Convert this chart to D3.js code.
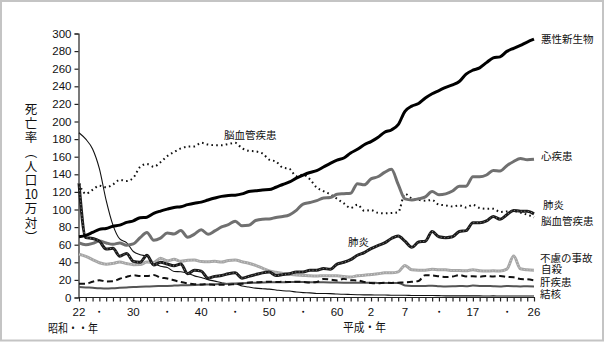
<!DOCTYPE html>
<html><head><meta charset="utf-8">
<script src="https://cdn.jsdelivr.net/npm/d3@7"></script>
<style>
html,body{margin:0;padding:0;background:#fff;}
svg{display:block;}
.tick text{font-family:"Liberation Sans",Arial,sans-serif;}
</style></head>
<body><svg id="c" width="607" height="344"></svg>
<script>
const years = d3.range(1947, 2015);
const malignant = [69.0,70.6,73.9,77.4,78.5,80.9,82.2,85.3,87.1,90.7,
91.3,95.5,98.2,100.4,102.3,103.2,105.5,107.2,108.4,110.8,
113.0,114.9,115.9,116.3,117.7,120.4,121.2,122.2,122.6,125.3,
128.4,131.3,135.7,139.1,142.0,144.2,148.3,152.5,156.1,158.5,
164.2,168.4,173.6,177.2,181.7,187.8,190.4,196.4,211.6,217.5,
220.4,226.7,231.6,235.2,238.8,241.7,245.4,253.9,258.3,261.0,
266.9,272.3,273.5,279.7,283.2,286.6,290.3,293.5];
const heart = [62.2,60,61.5,64.2,62,60.5,62,59.5,60.9,68,
74,65,67.5,73.2,72.1,76.2,68.5,72,77.0,71.9,
75.7,80.2,82.8,86.7,81.5,82,87.5,89,89.2,91,
92,94,99,106.2,107.9,110,113.1,113.6,117.3,117.9,
118.4,129.4,128,134.8,137.2,142.2,145.6,128.6,112.0,110.8,
112.2,114.3,120.4,116.8,117.8,121.0,126.5,126.5,137.2,137.2,
139.2,144.4,143.7,149.8,154.5,157.9,156.5,157.0];
const cerebro = [129.4,117.9,122.4,127.1,125.2,128.5,133.7,132.4,136.1,148.4,
151.7,148.6,153.7,160.7,165.4,169.4,171.4,171.7,175.8,173.8,
173.1,173.1,174.4,175.8,169.6,166.7,166.0,163.8,156.7,154.5,
147.6,146.2,137.7,139.5,134.3,125.0,120.9,117.2,112.2,106.9,
101.7,105.5,98.5,99.4,96.2,95.6,96.0,96.9,117.9,112.6,
111.0,110.0,110.8,105.5,104.7,103.4,104.7,102.3,105.3,101.7,
100.8,100.9,97.2,97.7,98.2,96.5,94.1,91.1];
const pneumonia = [130,68,67,64,55,56,47,50,41,40,
48,37,40,38,36,38,27,31,30,22,
24,25,27,28,22,24,26,28,29,25,
26,27,29,29,31,31,33,32,38,40,
43,48,51,55.6,59,62,67,70,64,57,
63,64,75,69,68,69,75,76,85,85,
87,92,89,94,99,98,98,95];
const accident = [49.2,46.8,43.1,39.5,37.9,38.8,40.4,38.6,37.3,37.4,
40.2,39.7,44.7,41.7,43.4,41.2,42.3,42.5,40.9,40.5,
41.1,40.3,42.0,42.5,40.7,38.9,36.5,33.4,30.3,28.6,
27.4,26.4,25.5,25.1,24.6,24.4,24.8,24.7,24.6,23.9,
23.2,24.8,25.3,26.2,26.9,28.1,28.0,29.1,36.5,31.4,
31.1,31.1,32.0,31.4,31.4,30.7,30.7,30.3,31.6,30.3,
30.1,30.3,30.0,32.2,47.1,32.6,31.5,31.1];
const suicide = [15.7,15.7,17.9,19.6,18.2,18.4,21.3,23.4,25.2,24.5,
24.3,25.7,22.7,21.6,19.6,17.5,16.1,15.1,14.7,15.2,
14.2,14.5,14.5,15.3,15.6,17.0,17.4,17.5,18.0,17.6,
17.9,17.6,18.0,17.7,17.1,17.5,21.0,20.4,19.4,21.2,
19.6,19.4,17.7,16.4,16.1,16.9,16.6,16.9,17.2,17.8,
18.8,25.4,25.0,24.1,23.3,23.8,25.5,24.0,24.2,23.7,
24.4,24.0,24.4,23.4,22.9,21.0,20.7,19.5];
const liver = [12.0,11.5,11.0,10.5,10.2,10.5,11.0,11.5,12.0,12.3,
12.5,12.8,13.0,13.2,13.5,13.8,14.0,14.2,14.5,14.8,
15.0,15.3,15.6,16.0,16.3,16.6,16.8,17.0,17.2,17.3,
17.4,17.5,17.5,17.5,17.4,17.3,17.2,17.1,17.0,16.9,
16.8,16.8,16.7,16.7,16.6,16.6,16.5,16.5,13.7,13.2,
13.1,13.1,13.4,12.9,12.6,12.7,13.1,12.8,13.5,13.2,
13.1,12.8,12.6,13.0,12.9,12.6,12.7,12.6];
const tb = [187.2,179.9,168.8,146.4,110.3,82.2,66.5,62.4,52.3,48.6,
46.9,39.4,35.5,34.2,29.6,29.3,27.5,24.6,22.8,20.3,
18.6,16.8,15.4,15.4,13.0,11.9,10.7,10.0,9.5,8.6,
7.6,7.3,6.2,5.5,5.2,4.6,4.5,4.4,3.9,3.7,
3.4,3.2,3.0,3.0,2.8,2.8,2.6,2.6,2.6,2.3,
2.2,2.2,2.3,2.1,1.8,1.8,1.9,1.8,1.8,1.8,
1.7,1.8,1.7,1.7,1.7,1.7,1.7,1.7];

const seriesNames = ["悪性新生物","心疾患","肺炎","脳血管疾患","不慮の事故","自殺","肝疾患","結核"];
const xTickYears = [1947,1950,1955,1960,1965,1970,1975,1980,1985,1990,1995,2000,2005,2010,2014];
const xTickLabels = ["22","・","30","・","40","・","50","・","60","2","7","・","17","・","26"];
const yTicks = d3.range(0, 301, 20);
const yTitle = ["死","亡","率","︵","人","口","10","万","対","︶"];

const svg = d3.select("#c");
const x = d3.scaleLinear().domain([1947, 2014]).range([79, 534]);
const y = d3.scaleLinear().domain([0, 300]).range([297.5, 33.5]);
const jp = '"Noto Sans CJK JP","Noto Sans CJK SC",sans-serif';

// frame
svg.append("rect").attr("x",1).attr("y",1).attr("width",602).attr("height",339.5)
  .attr("fill","#fff").attr("stroke","#c4c4c4").attr("stroke-width",2);

// y axis
const ya = svg.append("g").attr("transform","translate(78.5,0)")
  .call(d3.axisLeft(y).tickValues(yTicks).tickSize(4).tickPadding(3).tickFormat(d3.format("d")));
ya.selectAll("text").attr("font-size",11.5).attr("fill","#111");
ya.selectAll("line,path").attr("stroke","#222").attr("stroke-width",1.2);

// x axis
const xa = svg.append("g").attr("transform","translate(0,297.5)")
  .call(d3.axisBottom(x).tickValues(years).tickSize(4).tickFormat(""));
xa.select("path").attr("d","M78.5,0H535");
xa.selectAll("line,path").attr("stroke","#222").attr("stroke-width",1.2);
svg.append("g").selectAll("text").data(xTickYears).join("text")
  .attr("x", d => x(d)).attr("y", 316).attr("text-anchor","middle")
  .attr("font-family",'"Liberation Sans",Arial,sans-serif').attr("font-size",11.5)
  .attr("fill","#111").text((d,i) => xTickLabels[i]);

const line = data => d3.line().x((d,i)=>x(years[i])).y(d=>y(d)).curve(d3.curveMonotoneX)(data);
const g = svg.append("g").attr("fill","none").attr("stroke-linejoin","round");
g.append("path").attr("d", line(tb)).attr("stroke","#111").attr("stroke-width",1.1);
g.append("path").attr("d", line(liver)).attr("stroke","#555").attr("stroke-width",2);
g.append("path").attr("d", line(suicide)).attr("stroke","#111").attr("stroke-width",2).attr("stroke-dasharray","6,3.5");
g.append("path").attr("d", line(accident)).attr("stroke","#a6a6a6").attr("stroke-width",3);
g.append("path").attr("d", line(accident)).attr("stroke","#d0d0d0").attr("stroke-width",1).attr("stroke-dasharray","1,2");
g.append("path").attr("d", line(cerebro)).attr("stroke","#111").attr("stroke-width",2).attr("stroke-dasharray","1.6,3.2");
g.append("path").attr("d", line(heart)).attr("stroke","#707070").attr("stroke-width",3);
g.append("path").attr("d", line(pneumonia)).attr("stroke","#1a1a1a").attr("stroke-width",3);
g.append("path").attr("d", line(pneumonia)).attr("stroke","#8a8a8a").attr("stroke-width",1).attr("stroke-dasharray","1,2.5");
g.append("path").attr("d", line(malignant)).attr("stroke","#000").attr("stroke-width",3);

// right labels (upper ones separate, tightly stacked lower ones in one text block)
const labelPos = [[541,43],[541,160],[543,209],[541,225],[540,262],[541,273],[540,286],[540,298]];
svg.append("g").selectAll("text").data(seriesNames.slice(0,4)).join("text")
  .attr("x",(d,i)=>labelPos[i][0]).attr("y",(d,i)=>labelPos[i][1])
  .attr("font-family",jp).attr("font-size",10.5).attr("fill","#111").text(d=>d);
svg.append("text").attr("font-family",jp).attr("font-size",10.5).attr("fill","#111")
  .selectAll("tspan").data(seriesNames.slice(4)).join("tspan")
  .attr("x",(d,i)=>labelPos[i+4][0]).attr("y",(d,i)=>labelPos[i+4][1]).text(d=>d);

// inline labels
svg.append("text").attr("x",224).attr("y",139).attr("font-family",jp).attr("font-size",10.5).attr("fill","#111").text(seriesNames[3]);
svg.append("text").attr("x",348).attr("y",246).attr("font-family",jp).attr("font-size",10.5).attr("fill","#111").text(seriesNames[2]);

// y title (one text element, stacked characters)
svg.append("text").attr("text-anchor","middle").attr("font-family",jp).attr("font-size",12.5).attr("fill","#111")
  .selectAll("tspan").data(yTitle).join("tspan")
  .attr("x",31).attr("y",(d,i)=>114 + i*14.2)
  .attr("letter-spacing", d => d.length>1 ? -0.5 : 0).text(d=>d);

// era labels
svg.append("text").attr("x",48).attr("y",333).attr("font-family",jp).attr("font-size",12).attr("fill","#111")
  .attr("textLength",50).attr("lengthAdjust","spacingAndGlyphs").text("昭和・・年");
svg.append("text").attr("x",343).attr("y",332).attr("font-family",jp).attr("font-size",12).attr("fill","#111")
  .attr("textLength",43).attr("lengthAdjust","spacingAndGlyphs").text("平成・年");
</script></body></html>
